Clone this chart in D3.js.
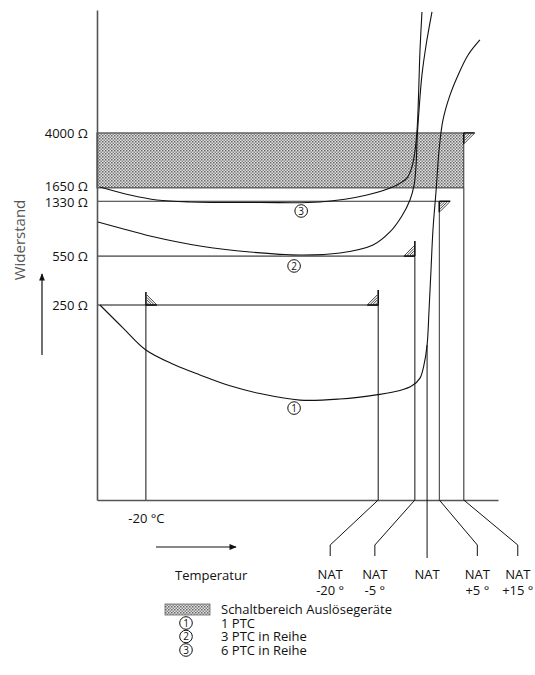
<!DOCTYPE html>
<html>
<head>
<meta charset="utf-8">
<script src="https://cdn.jsdelivr.net/npm/d3@7"></script>
<style>
  body { margin: 0; background: #fff; }
  text { font-family: "Open Sans", "Noto Sans", sans-serif; fill: #111; }
</style>
</head>
<body>
<script>
var w = 535,
    h = 675;

// resistance marks on the y axis (Ohm)
var resTicks = [250, 550, 1330, 1650, 4000];
// switching range of the trip units (Ohm)
var switchRange = [1650, 4000];
// nominal response temperature, assumed in degC
var nat = 95;
var natOffsets = [-20, -5, 0, 5, 15];
var natLabels = ["-20 °", "-5 °", "", "+5 °", "+15 °"];

// curves: [temperature degC, resistance Ohm]
var ptc1 = [[-38.8, 250], [-29.4, 173], [-20, 121], [-8.1, 95], [2.1, 81], [14.4, 68],
    [26.7, 60], [43, 54], [59.4, 55], [74.9, 59], [83.9, 63], [88.8, 68], [92.1, 77],
    [93.7, 95], [95, 131], [95.8, 231], [96.6, 440], [97.4, 838], [98.7, 1596],
    [99.9, 3040], [101.5, 4930], [104.4, 7380], [107.7, 10180], [111.7, 14000], [116.6, 17900]];
var ptc3 = [[-39.6, 953], [-30.6, 865], [-18.3, 760], [2.1, 647], [22.6, 587], [43, 560],
    [59.4, 578], [72.9, 657], [79.8, 811], [84.7, 1050], [88, 1358], [89.7, 1730],
    [90.5, 2390], [90.9, 3570], [91.7, 5790], [92.9, 10190], [94.6, 16500], [97, 28100]];
var ptc6 = [[-38.8, 1675], [-26.5, 1472], [-15.5, 1358], [-2, 1315], [26.7, 1304],
    [51.2, 1315], [70.4, 1472], [82.7, 1730], [86.8, 1937], [88.8, 2312], [90.1, 3040],
    [90.9, 4200], [91.3, 5790], [91.7, 9400], [92.1, 15200], [92.9, 28100]];

// circled numbers on the curves: [temperature, resistance, number]
var curveTags = [[40.6, 47.5, "1"], [40.6, 469, "2"], [43.5, 1137, "3"]];

var legendItems = ["Schaltbereich Auslösegeräte", "1 PTC", "3 PTC in Reihe", "6 PTC in Reihe"];

var x = d3.scaleLinear().domain([-40, 124]).range([97, 498]);
var y = d3.scaleLog().domain([10.8, 29000]).range([500, 10]);
var yBase = y.range()[0];

var svg = d3.select("body").append("svg")
    .attr("width", w)
    .attr("height", h);

var defs = svg.append("defs");
var pat = defs.append("pattern")
    .attr("id", "stipple")
    .attr("width", 3).attr("height", 3)
    .attr("patternUnits", "userSpaceOnUse");
pat.append("rect").attr("width", 3).attr("height", 3).attr("fill", "#e2e2e2");
pat.append("rect").attr("width", 1.5).attr("height", 1.5).attr("fill", "#666");
pat.append("rect").attr("x", 1.5).attr("y", 1.5).attr("width", 1.5).attr("height", 1.5).attr("fill", "#888");

// switching range box
svg.append("rect")
    .attr("x", x(-40))
    .attr("y", y(switchRange[1]))
    .attr("width", x(nat + 15) - x(-40))
    .attr("height", y(switchRange[0]) - y(switchRange[1]))
    .attr("fill", "url(#stipple)")
    .attr("stroke", "#333")
    .attr("stroke-width", 1);

function seg(x1, y1, x2, y2, col, sw) {
    svg.append("line")
        .attr("x1", x1).attr("y1", y1).attr("x2", x2).attr("y2", y2)
        .attr("stroke", col || "#111")
        .attr("stroke-width", sw || 1);
}

// horizontal threshold lines and their verticals
seg(x(-40), y(250), x(nat - 20), y(250));
seg(x(-20), y(250), x(-20), yBase);
seg(x(nat - 20), y(250), x(nat - 20), yBase);
seg(x(-40), y(550), x(nat - 5), y(550));
seg(x(nat - 5), y(550), x(nat - 5), yBase);
seg(x(-40), y(1330), x(nat + 5), y(1330), "#333");
seg(x(nat + 5), y(1330), x(nat + 5), yBase, "#333");
seg(x(nat + 15), y(1650), x(nat + 15), yBase, "#555", 1.3);

// hatched stop marks
function flag(px, py, dx, dy, tall) {
    var g = svg.append("g").attr("stroke", "#111").attr("stroke-width", 1);
    var L = 11;
    g.append("line").attr("x1", px).attr("y1", py).attr("x2", px + dx * L).attr("y2", py).attr("stroke-width", 1.6);
    g.append("line").attr("x1", px).attr("y1", py).attr("x2", px).attr("y2", py + dy * (tall || L)).attr("stroke-width", 1.6);
    for (var i = 2.5; i <= L; i += 2.5) {
        g.append("line")
            .attr("x1", px + dx * i).attr("y1", py + dy * 1)
            .attr("x2", px + dx * 1).attr("y2", py + dy * i)
            .attr("stroke-width", 0.8);
    }
}
flag(x(-20), y(250), 1, -1, 13);
flag(x(nat - 20), y(250), -1, -1, 15);
flag(x(nat - 5), y(550), -1, -1, 15);
flag(x(nat + 5), y(1330), 1, 1);
flag(x(nat + 15), y(4000), 1, 1);

// axes
var yAxis = svg.append("g")
    .attr("transform", "translate(" + x(-40) + ",0)")
    .call(d3.axisLeft(y).tickValues(resTicks).tickSize(0).tickSizeOuter(0).tickPadding(9)
        .tickFormat(function(d) { return d + " Ω"; }));
var xAxis = svg.append("g")
    .attr("transform", "translate(0," + yBase + ")")
    .call(d3.axisBottom(x).tickValues([-20]).tickSize(0).tickSizeOuter(0).tickPadding(14)
        .tickFormat(function(d) { return d + " °C"; }));
[yAxis, xAxis].forEach(function(a) {
    a.select(".domain").attr("stroke", "#555").attr("stroke-width", 1.6);
    a.selectAll("text").attr("font-size", 13).attr("fill", "#111")
        .attr("font-family", "Open Sans, sans-serif");
});
yAxis.selectAll(".tick text").attr("dy", function(d) {
    return d === 1650 ? "0.2em" : d === 1330 ? "0.4em" : "0.32em";
});

// curves
var line = d3.line()
    .x(function(d) { return x(d[0]); })
    .y(function(d) { return y(d[1]); })
    .curve(d3.curveCatmullRom.alpha(0.5));
[ptc1, ptc3, ptc6].forEach(function(c) {
    svg.append("path")
        .attr("d", line(c))
        .attr("fill", "none")
        .attr("stroke", "#111")
        .attr("stroke-width", 1.1);
});

// circled tags
function tag(px, py, s) {
    svg.append("circle").attr("cx", px).attr("cy", py).attr("r", 6.3)
        .attr("fill", "#fff").attr("stroke", "#111").attr("stroke-width", 1);
    svg.append("text").attr("x", px).attr("y", py + 3.6)
        .attr("text-anchor", "middle").attr("font-size", 10).text(s);
}
curveTags.forEach(function(d) { tag(x(d[0]), y(d[1]), d[2]); });

// NAT leader lines and labels
var labelDx = [-48, -40, 0, 38, 54];
natOffsets.forEach(function(o, i) {
    var px = x(nat + o),
        lx = px + labelDx[i];
    if (o === 0) {
        seg(px, y(131), px, 558);
    } else {
        svg.append("path")
            .attr("d", "M" + px + "," + yBase + "L" + lx + "," + 545 + "L" + lx + "," + 556)
            .attr("fill", "none").attr("stroke", "#111").attr("stroke-width", 1);
    }
    svg.append("text").attr("x", lx).attr("y", 579)
        .attr("text-anchor", "middle").attr("font-size", 13).text("NAT");
    svg.append("text").attr("x", lx).attr("y", 595)
        .attr("text-anchor", "middle").attr("font-size", 13).text(natLabels[i]);
});

// axis titles with arrows
defs.append("marker")
    .attr("id", "arrow")
    .attr("viewBox", "0 0 10 10")
    .attr("refX", 9).attr("refY", 5)
    .attr("markerWidth", 8).attr("markerHeight", 6)
    .attr("orient", "auto")
    .append("path").attr("d", "M0,1L10,5L0,9Z").attr("fill", "#111");

svg.append("line")
    .attr("x1", 156).attr("y1", 547).attr("x2", 236).attr("y2", 547)
    .attr("stroke", "#111").attr("stroke-width", 1.2)
    .attr("marker-end", "url(#arrow)");
svg.append("text").attr("x", 175).attr("y", 580)
    .attr("font-size", 13).text("Temperatur");

svg.append("line")
    .attr("x1", 42).attr("y1", 355).attr("x2", 42).attr("y2", 274)
    .attr("stroke", "#111").attr("stroke-width", 1.2)
    .attr("marker-end", "url(#arrow)");
svg.append("text")
    .attr("transform", "translate(25,240) rotate(-90)")
    .attr("text-anchor", "middle")
    .attr("font-size", 15)
    .attr("font-family", "Liberation Sans, Arial, sans-serif")
    .style("fill", "#555")
    .text("Widerstand");

// legend
var lg = svg.append("g");
lg.append("rect").attr("x", 165).attr("y", 604).attr("width", 45).attr("height", 11)
    .attr("fill", "url(#stipple)").attr("stroke", "#666").attr("stroke-width", 0.8);
legendItems.forEach(function(t, i) {
    var ty = 614 + i * 13.5;
    lg.append("text").attr("x", 221).attr("y", ty).attr("font-size", 13).text(t);
    if (i > 0) {
        tag(186, ty - 4.5, String(i));
    }
});
</script>
</body>
</html>
